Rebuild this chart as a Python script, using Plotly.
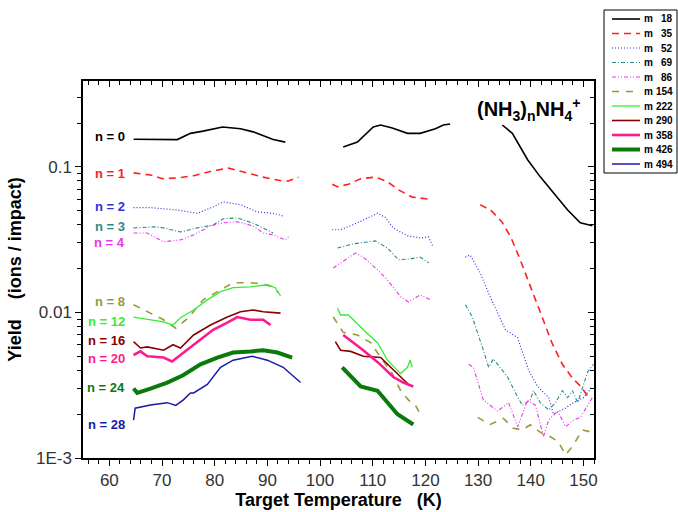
import math
import plotly.graph_objects as go

# ---------------- data (temperature in K, yield in ions/impact) ----------------
T18 = [64.6, 67.8, 72.9, 75.4, 77.8, 81.5, 84.9, 87.3, 91.1, 93.4, None,
       104.4, 107.1, 110.1, 111.5, 113.7, 116.6, 119.0, 121.9, 123.4, 124.7, None,
       134.6, 136.5, 139.4, 141.8, 144.3, 147.0, 149.4, 151.7]
Y18 = [0.155, 0.154, 0.154, 0.170, 0.176, 0.188, 0.183, 0.174, 0.154, 0.148, None,
       0.137, 0.148, 0.188, 0.194, 0.185, 0.170, 0.170, 0.183, 0.194, 0.197, None,
       0.194, 0.170, 0.112, 0.0854, 0.0663, 0.0506, 0.0413, 0.0394]

T35 = [64.6, 67.8, 70.1, 72.9, 76.0, 79.7, 82.6, 85.4, 89.2, 92.8, 94.0, 95.9, None,
       102.3, 103.3, 105.4, 107.7, 110.5, 112.8, 114.9, 117.5, 120.6, None,
       130.4, 132.5, 134.5, 136.2, 138.0, 140.0, 142.0, 144.0, 146.0, 148.0, 149.5, 151.0]
Y35 = [0.091, 0.088, 0.083, 0.084, 0.087, 0.094, 0.098, 0.092, 0.085, 0.080, 0.080, 0.085, None,
       0.076, 0.073, 0.076, 0.083, 0.085, 0.079, 0.0695, 0.062, 0.060, None,
       0.055, 0.050, 0.042, 0.033, 0.023, 0.0150, 0.0095, 0.0062, 0.0044, 0.0035, 0.0031, 0.0026]

T52 = [64.6, 67.8, 72.9, 76.7, 79.7, 81.6, 84.9, 88.1, 91.1, 93.0, None,
       102.3, 103.9, 107.1, 110.9, 112.4, 113.9, 116.6, 119.0, 120.6, 121.5, None,
       127.6, 128.5, 130.4, 132.3, 135.2, 137.5, 139.6, 141.3, 143.4, 144.3, 146.6, 148.1, 150.0, 151.7]
Y52 = [0.0525, 0.0525, 0.0506, 0.048, 0.053, 0.0575, 0.055, 0.049, 0.048, 0.046, None,
       0.037, 0.037, 0.0413, 0.048, 0.045, 0.038, 0.0336, 0.0325, 0.033, 0.028, None,
       0.0240, 0.0248, 0.0187, 0.0128, 0.0076, 0.0067, 0.0040, 0.0031, 0.0026, 0.0020, 0.0022, 0.0024, 0.0026, 0.0031]

T69 = [64.6, 68.4, 70.3, 73.5, 76.7, 79.7, 81.6, 84.3, 87.3, 89.2, 91.1, None,
       103.3, 106.3, 110.5, 112.8, 114.9, 117.1, 119.0, 120.6, None,
       127.6, 128.9, 131.0, 132.0, 132.9, 135.6, 137.1, 138.4, 139.9, 140.5, 141.8, 143.4, 144.7, 146.0,
       147.0, 147.9, 148.9, 150.8, 151.9]
Y69 = [0.0381, 0.0387, 0.0381, 0.0357, 0.0381, 0.0399, 0.044, 0.0446, 0.041, 0.0381, 0.0351, None,
       0.0277, 0.0296, 0.0310, 0.0277, 0.0230, 0.0233, 0.0240, 0.0219, None,
       0.0113, 0.0093, 0.0055, 0.0042, 0.0048, 0.0036, 0.0028, 0.0023, 0.0025, 0.0029, 0.0024, 0.00214,
       0.0024, 0.0029, 0.0026, 0.0029, 0.0024, 0.0039, 0.0044]

T86 = [64.6, 67.2, 70.3, 73.5, 76.0, 79.2, 81.6, 84.3, 87.3, 89.2, 91.1, 93.4, 94.0, None,
       102.5, 106.7, 108.2, 110.9, 112.8, 115.3, 116.8, 119.0, 121.0, None,
       128.2, 129.1, 131.0, 132.3, 133.7, 135.8, 137.5, 139.4, 140.9, 142.4, 143.4, 145.1, 146.6,
       148.1, 149.4, 151.7]
Y86 = [0.0351, 0.0351, 0.0306, 0.0315, 0.0341, 0.0393, 0.0413, 0.0420, 0.0393, 0.0351, 0.0341, 0.0315, 0.0330, None,
       0.0202, 0.0256, 0.0240, 0.0196, 0.0167, 0.0128, 0.0118, 0.0132, 0.0122, None,
       0.0044, 0.0042, 0.0025, 0.0023, 0.0021, 0.0024, 0.00164, 0.0025, 0.0023, 0.0014, 0.00182, 0.0021,
       0.00164, 0.00182, 0.0019, 0.0026]

T154 = [64.6, 67.8, 70.3, 72.6, 75.0, 77.8, 80.5, 83.5, 86.8, 89.2, 90.9, 92.1, None,
        102.5, 104.4, 107.1, 109.6, 111.5, 113.7, 115.3, 116.8, 118.1, 119.4, None,
        129.9, 132.3, 134.8, 136.7, 138.4, 139.9, 141.8, 143.7, 145.2, 146.6, 148.1, 149.8, 151.7]
Y154 = [0.0113, 0.0099, 0.0089, 0.0078, 0.0092, 0.0122, 0.0139, 0.0160, 0.0160, 0.0157, 0.0150, 0.0137, None,
        0.0093, 0.0073, 0.0070, 0.0062, 0.0049, 0.0038, 0.0029, 0.0025, 0.0023, 0.0019, None,
        0.0019, 0.0017, 0.00187, 0.0016, 0.00156, 0.00169, 0.0015, 0.0014, 0.0013, 0.00105, 0.00123,
        0.00156, 0.0015]

T222 = [64.6, 67.8, 70.3, 72.1, 73.5, 76.0, 78.6, 81.1, 83.5, 86.8, 90.0, 91.5, 92.5, None,
        103.3, 103.9, 105.4, 108.2, 110.9, 112.8, 115.3, 116.6, 117.1, 117.5]
Y222 = [0.0093, 0.0089, 0.0086, 0.0082, 0.0092, 0.0104, 0.0122, 0.0139, 0.0148, 0.0150, 0.0155, 0.0148, 0.0130, None,
        0.0107, 0.0096, 0.0096, 0.0076, 0.0062, 0.0047, 0.0038, 0.0042, 0.0047, 0.0042]

T290 = [64.6, 65.9, 67.2, 70.3, 72.1, 73.5, 76.0, 79.2, 82.4, 84.9, 87.3, 89.2, 92.5, None,
        102.9, 103.9, 105.8, 108.2, 111.5, 113.7, 115.3, 116.8]
Y290 = [0.0063, 0.0057, 0.0058, 0.0055, 0.0060, 0.0057, 0.0070, 0.0082, 0.0093, 0.0101, 0.0104, 0.0101, 0.0099, None,
        0.0063, 0.0055, 0.0054, 0.0050, 0.0049, 0.0041, 0.0036, 0.0032]

T358 = [64.6, 65.9, 67.2, 70.3, 71.9, 73.5, 76.7, 79.7, 82.4, 84.3, 86.8, 89.2, 90.6, None,
        104.4, 108.2, 111.1, 113.9, 115.8, 117.7]
Y358 = [0.0051, 0.0054, 0.0050, 0.0049, 0.0046, 0.0051, 0.0062, 0.0076, 0.0085, 0.0093, 0.0089, 0.0089, 0.0082, None,
        0.0070, 0.0055, 0.0045, 0.0036, 0.0033, 0.0031]

T426 = [64.6, 65.3, 67.8, 71.0, 74.0, 77.3, 80.5, 83.5, 86.8, 89.2, 91.9, 94.7, None,
        104.2, 107.7, 110.9, 114.7, 117.7]
Y426 = [0.0030, 0.0028, 0.0030, 0.0033, 0.0037, 0.0044, 0.0049, 0.0053, 0.0054, 0.0055, 0.0053, 0.0049, None,
        0.0042, 0.0031, 0.0029, 0.0020, 0.0017]

T494 = [64.6, 64.9, 67.8, 71.0, 72.6, 74.0, 75.4, 76.0, 78.6, 81.1, 83.5, 87.1, 90.0, 93.0, 96.3]
Y494 = [0.00182, 0.0022, 0.00231, 0.0024, 0.0023, 0.0025, 0.0028, 0.0028, 0.0032, 0.0042, 0.0047, 0.0050,
        0.0047, 0.0042, 0.0033]

MASSES = ["18", "35", "52", "69", "86", "154", "222", "290", "358", "426", "494"]
N_LABELS = ["n = 0", "n = 1", "n = 2", "n = 3", "n = 4", "n = 8", "n = 12", "n = 16", "n = 20", "n = 24", "n = 28"]
N_LABEL_Y = [0.161, 0.0895, 0.0531, 0.0387, 0.0301, 0.0118, 0.0086, 0.00637, 0.00479, 0.00303, 0.00169]
X_TICKS = [60, 70, 80, 90, 100, 110, 120, 130, 140, 150]
Y_TICKS = [0.001, 0.01, 0.1]
Y_TICK_TEXT = ["1E-3", "0.01", "0.1"]

# ---------------- styles ----------------
series = [
    (T18, Y18, "black", 1.6, "solid"),
    (T35, Y35, "#ff2020", 1.6, "7px,5px"),
    (T52, Y52, "#3030e0", 1.2, "1px,2px"),
    (T69, Y69, "#2a8a8a", 1.1, "4px,2px,1px,2px"),
    (T86, Y86, "#ee33ee", 1.1, "4px,2px,1px,2px,1px,2px"),
    (T154, Y154, "#99993a", 1.6, "7px,7px"),
    (T222, Y222, "#33ee33", 1.3, "solid"),
    (T290, Y290, "#880000", 1.6, "solid"),
    (T358, Y358, "#ff1a8c", 2.6, "solid"),
    (T426, Y426, "#0a7a0a", 4.0, "solid"),
    (T494, Y494, "#1a1aa6", 1.5, "solid"),
]

FONT = "Liberation Sans, Arial, sans-serif"
W, H = 678, 512
ML, MR, MT, MB = 83, 84, 81, 54
PW, PH = W - ML - MR, H - MT - MB


def px_x(px):
    return (px - ML) / PW


def px_y(py):
    return (H - MB - py) / PH


fig = go.Figure()
for (t, y, c, w, d), m in zip(series, MASSES):
    fig.add_trace(go.Scatter(x=t, y=y, mode="lines", name="m " + m,
                             line=dict(color=c, width=w, dash=d),
                             connectgaps=False, hoverinfo="skip", showlegend=False))

# empty trace to materialise mirrored (inward-tick) top/right axes
fig.add_trace(go.Scatter(x=[None], y=[None], xaxis="x2", yaxis="y2",
                         showlegend=False, hoverinfo="skip"))

# curve labels
for txt, yv, s in zip(N_LABELS, N_LABEL_Y, series):
    fig.add_annotation(x=63.4, y=math.log10(yv), xref="x", yref="y",
                       text="<b>%s</b>" % txt, showarrow=False, xanchor="right",
                       font=dict(family=FONT, size=13, color=s[2]))

fig.add_annotation(x=139.5, y=-0.608, xref="x", yref="y",
                   text="<b>(NH<sub>3</sub>)<sub>n</sub>NH<sub>4</sub><sup>+</sup></b>",
                   showarrow=False, font=dict(family=FONT, size=20, color="black"))

# hand-drawn legend box (compact, like the original)
shapes = [dict(type="rect", xref="paper", yref="paper",
               x0=px_x(604), x1=px_x(677), y0=px_y(173), y1=px_y(10),
               line=dict(color="black", width=1), fillcolor="white", layer="above")]
for i, (s, m) in enumerate(zip(series, MASSES)):
    yc = 19 + i * 14.5
    shapes.append(dict(type="line", xref="paper", yref="paper",
                       x0=px_x(612), x1=px_x(640), y0=px_y(yc), y1=px_y(yc),
                       line=dict(color=s[2], width=s[3], dash=s[4]), layer="above"))
    fig.add_annotation(x=px_x(642), y=px_y(yc), xref="paper", yref="paper", text="<b>m</b>",
                       showarrow=False, xanchor="left", yanchor="middle",
                       font=dict(family=FONT, size=10, color="black"))
    fig.add_annotation(x=px_x(675), y=px_y(yc), xref="paper", yref="paper", text="<b>%s</b>" % m,
                       showarrow=False, xanchor="right", yanchor="middle",
                       font=dict(family=FONT, size=10, color="black"))

X_RANGE = [55, 152]
Y_RANGE = [-3, -0.41]
minor_y = [k * 10 ** e for e in (-3, -2, -1) for k in range(2, 10) if k * 10 ** e < 0.39]

fig.update_layout(
    width=W, height=H,
    margin=dict(l=ML, r=MR, t=MT, b=MB, autoexpand=False),
    paper_bgcolor="white", plot_bgcolor="white",
    font=dict(family=FONT, size=14, color="#222"),
    shapes=shapes,
    showlegend=False,
    xaxis=dict(range=X_RANGE, tickvals=X_TICKS, ticks="outside", ticklen=6, tickwidth=1.3,
               tickcolor="black", showline=True, linecolor="black", linewidth=1.5,
               showgrid=False, zeroline=False,
               minor=dict(dtick=2, ticks="outside", ticklen=4, tickcolor="black", showgrid=False),
               title=dict(text="<b>Target Temperature   (K)</b>", font=dict(size=18, color="black"),
                          standoff=2),
               tickfont=dict(size=17, color="#333")),
    yaxis=dict(type="log", range=Y_RANGE, tickvals=Y_TICKS, ticktext=Y_TICK_TEXT,
               ticks="outside", ticklen=6, tickwidth=1.3, tickcolor="black",
               showline=True, linecolor="black", linewidth=1.5, showgrid=False, zeroline=False,
               minor=dict(tickvals=minor_y, ticks="outside", ticklen=4, tickcolor="black", showgrid=False),
               title=dict(text="<b>Yield    (ions / impact)</b>", font=dict(size=18, color="black"),
                          standoff=10),
               tickfont=dict(size=17, color="#333")),
    xaxis2=dict(overlaying="x", side="top", anchor="y2", range=X_RANGE, tickvals=X_TICKS,
                ticks="inside", ticklen=6, tickcolor="black", showticklabels=False,
                showline=True, linecolor="black", linewidth=1.5, showgrid=False, zeroline=False,
                minor=dict(dtick=2, ticks="inside", ticklen=4, tickcolor="black", showgrid=False)),
    yaxis2=dict(overlaying="y", side="right", anchor="x2", type="log", range=Y_RANGE,
                tickvals=Y_TICKS, ticks="inside", ticklen=6, tickcolor="black", showticklabels=False,
                showline=True, linecolor="black", linewidth=1.5, showgrid=False, zeroline=False,
                minor=dict(tickvals=minor_y, ticks="inside", ticklen=4, tickcolor="black", showgrid=False)),
)

fig.write_html("out.html", config={"displayModeBar": False},
               post_script="document.body.style.margin='0';")
